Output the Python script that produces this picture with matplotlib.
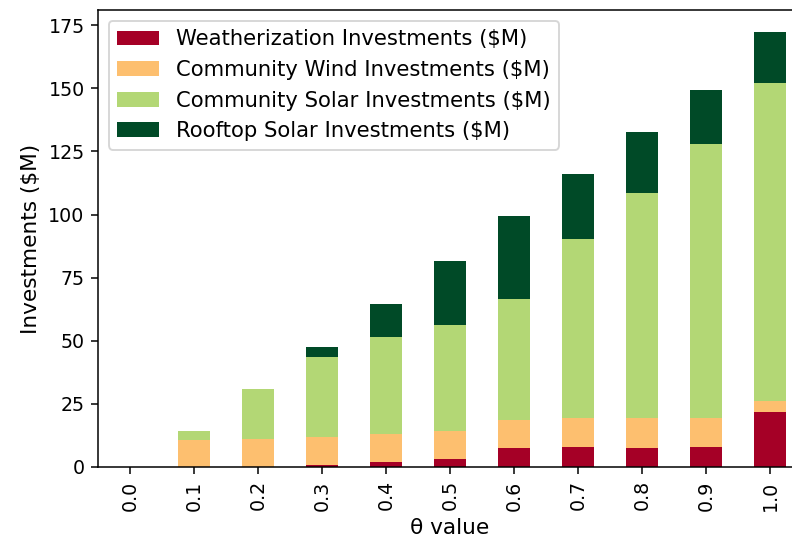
import matplotlib
matplotlib.use("Agg")
import matplotlib.pyplot as plt
import numpy as np

theta_labels = ["0.0", "0.1", "0.2", "0.3", "0.4", "0.5", "0.6", "0.7", "0.8", "0.9", "1.0"]
weatherization = [0.0, 0.0, 0.0, 0.7, 2.0, 3.2, 7.5, 7.8, 7.5, 7.8, 21.6]
community_wind = [0.0, 10.8, 11.2, 11.0, 11.0, 11.0, 11.2, 11.6, 11.9, 11.6, 4.4]
community_solar = [0.0, 3.4, 19.5, 32.0, 38.6, 42.2, 48.0, 70.8, 89.1, 108.5, 126.1]
rooftop_solar = [0.0, 0.0, 0.3, 3.7, 12.9, 25.0, 32.9, 25.9, 24.3, 21.6, 20.1]

series = [
    ("Weatherization Investments ($M)", weatherization, "#a50026"),
    ("Community Wind Investments ($M)", community_wind, "#fdbf6f"),
    ("Community Solar Investments ($M)", community_solar, "#b3d775"),
    ("Rooftop Solar Investments ($M)", rooftop_solar, "#004a27"),
]

DPI = 137
fig = plt.figure(figsize=(792 / DPI, 543 / DPI), dpi=DPI)
ax = fig.add_axes([0.1237, 0.14, 0.8889, 0.8407])

x = np.arange(len(theta_labels))
bottom = np.zeros(len(theta_labels))
for name, vals, color in series:
    vals = np.array(vals)
    ax.bar(x, vals, width=0.5, bottom=bottom, color=color, label=name)
    bottom += vals

ax.set_xlim(-0.5, len(theta_labels) - 0.5)
ax.set_ylim(0, bottom.max() * 1.05)
ax.set_yticks([0, 25, 50, 75, 100, 125, 150, 175])
ax.set_xticks(x)
ax.set_xticklabels(theta_labels, rotation=90)
ax.tick_params(labelsize=10)
ax.set_xlabel("θ value", fontsize=11.4)
ax.set_ylabel("Investments ($M)", fontsize=11.4)
ax.legend(loc="upper left", fontsize=11.1)

fig.savefig("out.png", dpi=DPI)
